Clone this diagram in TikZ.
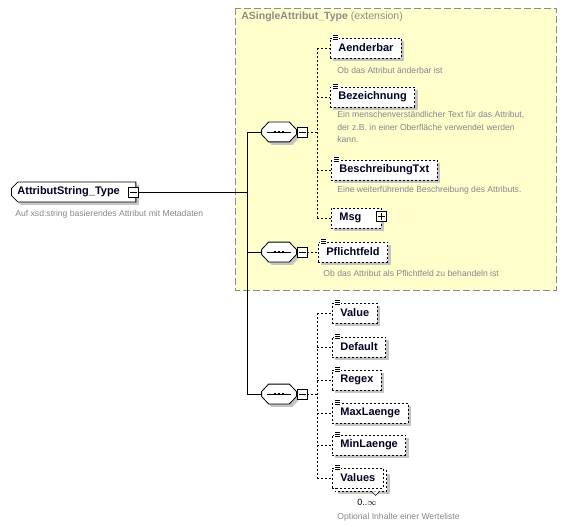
\documentclass[tikz,border=0pt]{standalone}
\usepackage{fontspec}
\setmainfont{Liberation Sans}
\usetikzlibrary{calc,shapes.misc,shadows,backgrounds}

\definecolor{extyellow}{HTML}{FFFFCC}
\definecolor{extborder}{HTML}{8C8C8C}
\definecolor{docgray}{HTML}{85858F}
\definecolor{shadowgray}{HTML}{C4C4C4}
\definecolor{namenavy}{HTML}{000020}

\tikzset{
	boxshadow/.style={drop shadow={shadow xshift=3pt, shadow yshift=-3pt, fill=shadowgray, opacity=1}},
	namefont/.style={font=\fontsize{11}{12}\selectfont\bfseries, text=namenavy},
	doc/.style={font=\fontsize{8.6}{12.5}\selectfont, text=docgray, inner sep=0pt, align=left},
	dashline/.style={dashed, dash pattern=on 2pt off 2pt},
	elembase/.style={draw, dashline, fill=white, namefont, minimum height=20pt, inner xsep=8pt, inner ysep=0pt},
	elem/.style={elembase, boxshadow},
	rootbox/.style={draw, fill=white, namefont, chamfered rectangle, chamfered rectangle corners={north west,south west},
		chamfered rectangle xsep=3pt, minimum height=20pt, inner xsep=3pt, inner ysep=0pt, boxshadow},
	pmbox/.style={draw, fill=white, minimum size=10pt, inner sep=0pt},
	seq/.style={minimum width=34pt, minimum height=19pt, inner sep=0pt},
	extbox/.style={draw=extborder, fill=extyellow, dashed, dash pattern=on 7pt off 3pt},
}

\begin{document}
\begin{tikzpicture}[x=1pt,y=-1pt,line width=0.8pt]

	\useasboundingbox (0,0) rectangle (566,527);

	% extension area
	\draw[extbox] (235,8) rectangle (556,290);
	\node[doc, anchor=west, text=extborder, font=\fontsize{10.5}{12}\selectfont] (title) at (241,17)
		{\textbf{ASingleAttribut\_Type} (extension)};

	% root element
	\node[rootbox, anchor=west] (root) at (11,192) {AttributString\_Type\hspace*{10pt}};
	\node[pmbox] (rootm) at ($(root.east)+(-3,0)$) {};
	\node[doc, anchor=west] (rootdoc) at (15,214) {Auf xsd:string basierendes Attribut mit Metadaten};

	% coordinates
	\coordinate (trunk) at (247,0);
	\coordinate (g) at (317,0);

	% sequences
	\foreach \s/\y in {s1/132, s2/252, s3/394} {
		\node[seq] (\s) at (279,\y) {};
		\filldraw[fill=white, boxshadow] ($(\s.west)+(0,-2.5)$) -- ($(\s.north west)+(7,0)$)
			-- ($(\s.north east)+(-7,0)$) -- ($(\s.east)+(0,-2.5)$) -- ($(\s.east)+(0,2.5)$)
			-- ($(\s.south east)+(-7,0)$) -- ($(\s.south west)+(7,0)$) -- ($(\s.west)+(0,2.5)$) -- cycle;
		\node[pmbox] (\s-m) at (302,\y) {};
		\draw ($(\s.center)+(-12,0)$) -- ($(\s.center)+(12,0)$);
		\foreach \d in {-4,0,4} { \fill ($(\s.center)+(\d-1.3,-1.3)$) rectangle ++(2.6,2.6); }
	}

	% elements of the first sequence
	\node[elem, anchor=west] (aend) at (330,48) {Aenderbar};
	\node[doc, anchor=west] (aenddoc) at (337,70) {Ob das Attribut änderbar ist};

	\node[elem, anchor=west] (bez) at (330,97) {Bezeichnung};
	\node[doc, anchor=north west] (bezdoc) at (337,111)
		{Ein menschenverständlicher Text für das Attribut,\\der z.B. in einer Oberfläche verwendet werden\\kann.};

	\node[elem, anchor=west] (besch) at (331,170) {BeschreibungTxt};
	\node[doc, anchor=west] (beschdoc) at (337,190) {Eine weiterführende Beschreibung des Attributs.};

	\node[elem, anchor=west] (msg) at (331,218) {Msg\hspace*{12pt}};
	\node[pmbox] (msgp) at ($(msg.east)+(0,-1.5)$) {};

	% element of the second sequence
	\node[elem, anchor=west] (pflicht) at (318,252) {Pflichtfeld};
	\node[doc, anchor=west] (pflichtdoc) at (323,273) {Ob das Attribut als Pflichtfeld zu behandeln ist};

	% elements of the third sequence
	\node[elem, anchor=west] (value) at (332,313) {Value};
	\node[elem, anchor=west] (default) at (332,347) {Default};
	\node[elem, anchor=west] (regex) at (332,380) {Regex};
	\node[elem, anchor=west] (maxl) at (332,413) {MaxLaenge};
	\node[elem, anchor=west] (minl) at (332,445) {MinLaenge};
	\node[elembase, anchor=west] (values) at (332,478) {Values};
	\begin{scope}[on background layer]
		\draw[dashline, fill=white, boxshadow] ($(values.north west)+(3,3)$) rectangle ($(values.south east)+(3,3)$);
	\end{scope}
	\draw[fill=white, line width=0.6pt] ($(values.south east)+(-12,3)$) -- ++(4,4) -- ++(4,-4);
	\node[font=\fontsize{9}{10}\selectfont, inner sep=0pt] (occ) at (367,502) {0..$\infty$};
	\node[doc, anchor=west] (valuesdoc) at (337,517) {Optional Inhalte einer Werteliste};

	% minus and plus marks
	\foreach \n in {rootm, s1-m, s2-m, s3-m, msgp} {
		\draw ($(\n.center)+(-3.5,0)$) -- ($(\n.center)+(3.5,0)$);
	}
	\draw ($(msgp.center)+(0,-3.5)$) -- ($(msgp.center)+(0,3.5)$);

	% element icons
	\foreach \n in {aend, bez, besch, pflicht, value, default, regex, maxl, minl, values} {
		\fill[white] ($(\n.north west)+(2,-3)$) rectangle ($(\n.north west)+(9,3)$);
		\foreach \d in {-2,0,2} { \draw[line width=0.5pt] ($(\n.north west)+(3,\d)$) -- +(5,0); }
	}

	% connectors
	\draw (rootm.east) -- (rootm.east -| trunk);
	\draw (s1.west -| trunk) -- (s3.west -| trunk);
	\foreach \s in {s1, s2, s3} { \draw (\s.west -| trunk) -- (\s.west); }

	\draw[dashline] (s1-m.east) -- (s1-m.east -| g);
	\draw[dashline] (aend.west -| g) -- (msg.west -| g);
	\foreach \n in {aend, bez, besch, msg} { \draw[dashline] (\n.west -| g) -- (\n.west); }

	\draw[dashline] (s2-m.east) -- (pflicht.west);

	\draw[dashline] (s3-m.east) -- (s3-m.east -| g);
	\draw[dashline] (value.west -| g) -- (values.west -| g);
	\foreach \n in {value, default, regex, maxl, minl, values} { \draw[dashline] (\n.west -| g) -- (\n.west); }

\end{tikzpicture}
\end{document}
